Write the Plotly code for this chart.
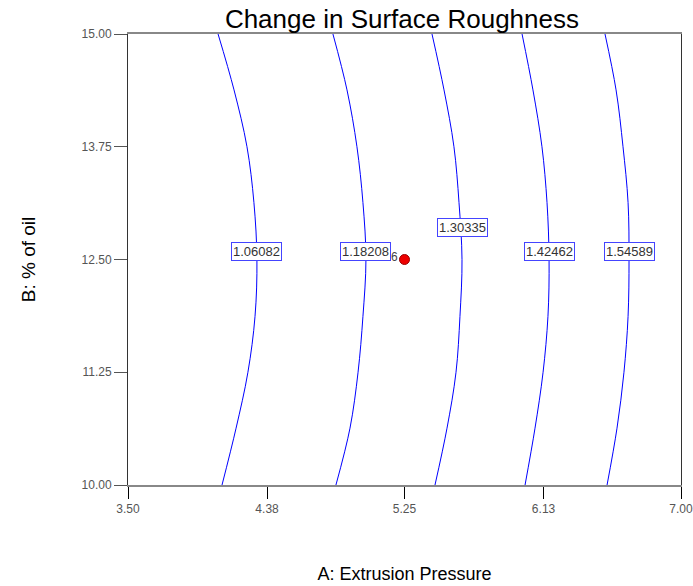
import plotly.graph_objects as go

# Contour levels of the fitted response
levels = [1.06082, 1.18208, 1.30335, 1.42462, 1.54589]

# B (% of oil) positions where each contour is traced
b_pts = [10.0, 10.63, 11.25, 11.87, 12.5, 13.13, 13.75, 14.38, 15.0]

# A (Extrusion Pressure) of each contour at those B positions
a_line1 = [4.095, 4.184, 4.259, 4.304, 4.316, 4.297, 4.253, 4.171, 4.070]
a_line2 = [4.816, 4.905, 4.956, 4.987, 5.006, 4.987, 4.949, 4.886, 4.797]
a_line3 = [5.443, 5.519, 5.576, 5.601, 5.614, 5.595, 5.563, 5.500, 5.424]
a_line4 = [6.013, 6.076, 6.127, 6.158, 6.165, 6.152, 6.120, 6.063, 5.994]
a_line5 = [6.532, 6.595, 6.639, 6.665, 6.671, 6.665, 6.633, 6.589, 6.519]
contour_lines = [a_line1, a_line2, a_line3, a_line4, a_line5]

# B position of each contour label
label_b = [12.59, 12.59, 12.86, 12.59, 12.59]

# Centre point of the design and its replicate count
design_a = [5.25]
design_b = [12.5]
design_count = "6"

x_ticks = [3.50, 4.38, 5.25, 6.13, 7.00]
y_ticks = [10.00, 11.25, 12.50, 13.75, 15.00]

fig = go.Figure()

for a_vals in contour_lines:
    fig.add_trace(go.Scatter(
        x=a_vals, y=b_pts, mode="lines",
        line=dict(color="#0000ff", width=1, shape="spline", smoothing=1.0),
        hoverinfo="skip", showlegend=False,
    ))

fig.add_trace(go.Scatter(
    x=design_a, y=design_b, mode="markers",
    marker=dict(color="#ee0000", size=10, line=dict(color="#990000", width=1)),
    showlegend=False,
))

# Contour value labels in boxes
for lvl, a_vals, lb in zip(levels, contour_lines, label_b):
    fig.add_annotation(
        x=a_vals[4], y=lb, text=f"{lvl:.5f}", showarrow=False,
        font=dict(family="Arial, Liberation Sans", size=13, color="#333333"),
        bgcolor="white", bordercolor="#4444ff", borderwidth=1, borderpad=1,
    )

# Replicate count next to the design point
fig.add_annotation(
    x=design_a[0], y=design_b[0], text=design_count, showarrow=False,
    xshift=-10, yshift=3,
    font=dict(family="Arial, Liberation Sans", size=12, color="#444444"),
)

fig.update_layout(
    width=693, height=586,
    margin=dict(l=128, r=12, t=34, b=101),
    paper_bgcolor="white", plot_bgcolor="white",
    title=dict(text="Change in Surface Roughness", x=0.58, xanchor="center",
               y=0.968, yanchor="middle",
               font=dict(family="Arial, Liberation Sans", size=26, color="black")),
    font=dict(family="Arial, Liberation Sans"),
)

fig.update_xaxes(
    range=[3.5, 7.0], tickvals=x_ticks, ticktext=[f"{v:.2f}" for v in x_ticks],
    ticks="outside", ticklen=12, tickcolor="black", tickwidth=1,
    showline=True, linecolor="#888888", linewidth=2, mirror=True,
    showgrid=False, zeroline=False, automargin=False,
    ticklabeloverflow="allow",
    tickfont=dict(size=12, color="#555555"),
    title=dict(text="A: Extrusion Pressure", standoff=52,
               font=dict(size=18, color="black")),
)
fig.update_yaxes(
    range=[10.0, 15.0], tickvals=y_ticks, ticktext=[f"{v:.2f}" for v in y_ticks],
    ticks="outside", ticklen=13, tickcolor="#555555", tickwidth=1,
    showline=True, linecolor="#333333", linewidth=1, mirror=True,
    showgrid=False, zeroline=False, automargin=False,
    ticklabeloverflow="allow",
    tickfont=dict(size=12, color="#555555"),
    title=dict(text="B: % of oil", standoff=40,
               font=dict(size=19, color="black")),
)

fig.write_html("out.html")
